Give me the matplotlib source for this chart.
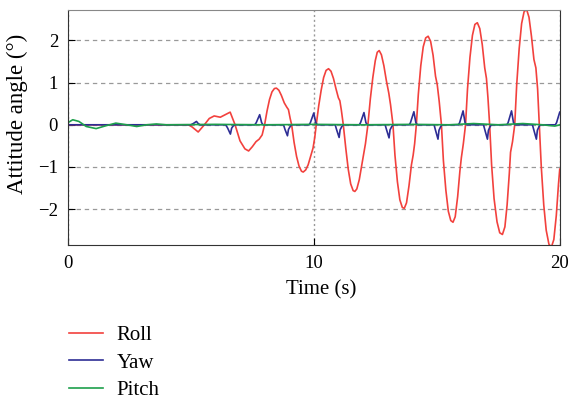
import matplotlib.pyplot as plt

plt.rcParams['font.family'] = ['Liberation Serif', 'DejaVu Serif']

# Roll (deg)
roll_t = [0, 4.9, 5.05, 5.3, 5.55, 5.75, 5.95, 6.2, 6.4, 6.6, 6.7, 6.8, 7.0, 7.2, 7.35,
          7.5, 7.65, 7.78, 7.9, 8.0,
          8.1, 8.2, 8.3, 8.4, 8.48, 8.58, 8.68, 8.8, 8.9, 8.97, 9.04, 9.1,
          9.2, 9.3, 9.4, 9.5, 9.57, 9.67, 9.77, 9.87, 9.97, 10.04, 10.1,
          10.2, 10.3, 10.4, 10.5, 10.6, 10.7, 10.8, 10.9, 11.0, 11.06, 11.12, 11.2,
          11.3, 11.4, 11.5, 11.6, 11.67, 11.75, 11.85, 11.95, 12.02, 12.1, 12.2,
          12.3, 12.4, 12.5, 12.58, 12.66, 12.75, 12.85, 12.95, 13.05, 13.12, 13.22,
          13.3, 13.4, 13.5, 13.6, 13.68, 13.77, 13.87, 13.97, 14.04, 14.1, 14.17,
          14.25, 14.35, 14.45, 14.55, 14.65, 14.75, 14.85, 14.95, 15.02, 15.1, 15.19,
          15.27, 15.37, 15.47, 15.57, 15.66, 15.75, 15.85, 15.94, 16.0, 16.08, 16.17,
          16.25, 16.35, 16.45, 16.55, 16.65, 16.75, 16.85, 16.95, 17.02, 17.08, 17.15,
          17.23, 17.33, 17.45, 17.56, 17.67, 17.77, 17.86, 17.95, 18.0, 18.08, 18.17,
          18.25, 18.35, 18.45, 18.55, 18.65, 18.75, 18.85, 18.95, 19.03, 19.1, 19.17,
          19.25, 19.35, 19.45, 19.56, 19.66, 19.76, 19.86, 19.95, 20.0]
roll_y = [0, 0, -0.05, -0.17, 0.0, 0.15, 0.21, 0.18, 0.24, 0.30, 0.15, 0.0, -0.38, -0.57,
          -0.62, -0.52, -0.40, -0.34, -0.24, 0.0,
          0.33, 0.60, 0.78, 0.86, 0.87, 0.82, 0.70, 0.52, 0.42, 0.36, 0.15, 0.0,
          -0.42, -0.75, -0.98, -1.10, -1.12, -1.07, -0.95, -0.75, -0.55, -0.30, 0.0,
          0.45, 0.82, 1.12, 1.29, 1.33, 1.27, 1.10, 0.86, 0.64, 0.57, 0.35, 0.0,
          -0.55, -1.05, -1.40, -1.56, -1.58, -1.52, -1.30, -0.95, -0.72, -0.45, 0.0,
          0.62, 1.12, 1.52, 1.72, 1.76, 1.66, 1.40, 1.05, 0.75, 0.48, 0.0,
          -0.72, -1.35, -1.78, -1.96, -1.98, -1.85, -1.45, -0.95, -0.72, -0.45, 0.0,
          0.72, 1.40, 1.85, 2.06, 2.10, 1.98, 1.65, 1.15, 0.95, 0.55, 0.0,
          -0.85, -1.55, -2.05, -2.27, -2.31, -2.18, -1.70, -1.10, -0.78, -0.45, 0.0,
          0.85, 1.60, 2.12, 2.38, 2.42, 2.28, 1.90, 1.35, 1.10, 0.65, 0.0,
          -0.95, -1.75, -2.30, -2.56, -2.60, -2.42, -1.90, -1.15, -0.65, -0.40, 0.0,
          0.95, 1.80, 2.40, 2.68, 2.74, 2.55, 2.10, 1.55, 1.35, 0.85, 0.0,
          -1.00, -1.90, -2.50, -2.83, -2.90, -2.72, -2.15, -1.40, -1.05]

# Yaw (deg): short spikes
yaw_t = [0, 5.0, 5.1, 5.23, 5.3, 5.38,
         6.42, 6.5, 6.61, 6.66, 6.72, 6.78,
         7.6, 7.66, 7.8, 7.88, 7.94,
         8.77, 8.83, 8.93, 8.97, 9.04, 9.09,
         9.81, 9.86, 10.0, 10.08, 10.14,
         10.87, 10.93, 11.03, 11.07, 11.14, 11.19,
         11.85, 11.9, 12.04, 12.12, 12.18,
         12.9, 12.96, 13.06, 13.1, 13.17, 13.22,
         13.88, 13.93, 14.07, 14.15, 14.21,
         14.89, 14.95, 15.05, 15.09, 15.16, 15.21,
         15.88, 15.93, 16.07, 16.15, 16.21,
         16.9, 16.96, 17.06, 17.1, 17.17, 17.22,
         17.85, 17.9, 18.04, 18.12, 18.18,
         18.89, 18.95, 19.05, 19.09, 19.16, 19.21,
         19.82, 19.87, 20.0]
yaw_y = [0, 0, 0.03, 0.08, 0.03, 0,
         0, -0.08, -0.22, -0.08, -0.03, 0,
         0, 0.05, 0.24, 0.05, 0,
         0, -0.11, -0.26, -0.11, -0.04, 0,
         0, 0.05, 0.28, 0.05, 0,
         0, -0.12, -0.30, -0.12, -0.04, 0,
         0, 0.05, 0.29, 0.05, 0,
         0, -0.12, -0.31, -0.12, -0.04, 0,
         0, 0.05, 0.31, 0.05, 0,
         0, -0.13, -0.34, -0.13, -0.04, 0,
         0, 0.05, 0.33, 0.05, 0,
         0, -0.13, -0.34, -0.13, -0.04, 0,
         0, 0.05, 0.33, 0.05, 0,
         0, -0.13, -0.34, -0.13, -0.04, 0,
         0, 0.05, 0.30]

# Pitch (deg)
pitch_t = [0, 0.2, 0.45, 0.75, 1.15, 1.5, 1.95, 2.4, 2.8, 3.2, 3.6, 4.0, 6.0, 8.0,
           10.0, 12.0, 14.0, 15.5, 16.5, 17.5, 18.5, 19.3, 19.8, 20.0]
pitch_y = [0.05, 0.12, 0.08, -0.04, -0.09, -0.03, 0.04, 0.0, -0.04, 0.0, 0.02, 0.0,
           0.01, 0.0, 0.01, 0.0, 0.01, 0.0, 0.03, 0.0, 0.03, 0.0, -0.03, 0.0]

fig = plt.figure(figsize=(5.7, 4.03), dpi=100)
ax = fig.add_axes([0.119, 0.392, 0.863, 0.583])

ax.plot(roll_t, roll_y, color='#f2413d', lw=1.2, label='Roll')
ax.plot(yaw_t, yaw_y, color='#2d2d95', lw=1.2, label='Yaw')
ax.plot(pitch_t, pitch_y, color='#1ea04c', lw=1.2, label='Pitch')

ax.set_xlim(0, 20)
ax.set_ylim(-2.85, 2.72)
ax.set_xticks([0, 10, 20])
ax.set_yticks([-2, -1, 0, 1, 2])
ax.set_yticklabels(['\u22122', '\u22121', '0', '1', '2'])
ax.tick_params(direction='in', length=5, labelsize=13.5, top=False, right=False, pad=7)
ax.yaxis.grid(True, color='#999999', ls=(0, (3.5, 3)), lw=0.9)
ax.xaxis.grid(True, color='#999999', ls=(0, (1.5, 2)), lw=1.0)
for s in ['left', 'bottom', 'right']:
    ax.spines[s].set_color('#333333')
ax.spines['top'].set_color('#888888')

ax.set_xlabel('Time (s)', fontsize=15)
ax.set_ylabel('Attitude angle (°)', fontsize=16.5)
ax.xaxis.set_label_coords(0.516, -0.148)
ax.yaxis.set_label_coords(-0.08, 0.56)

fig.legend(loc='upper left', bbox_to_anchor=(0.106, 0.213), frameon=False, fontsize=15,
           handlelength=1.63, handletextpad=0.65, labelspacing=0.38, borderaxespad=0)

fig.savefig('out.png', dpi=100)
